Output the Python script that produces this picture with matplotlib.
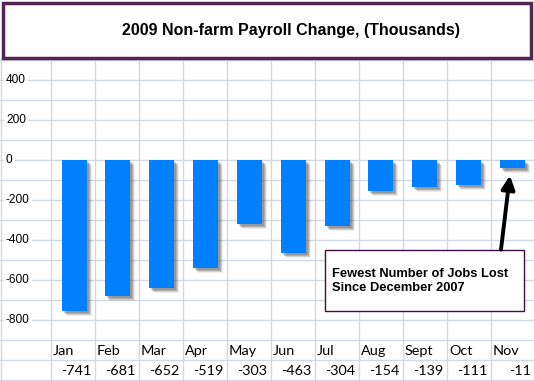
import matplotlib
matplotlib.use("Agg")
import matplotlib.pyplot as plt
import matplotlib.transforms as mtransforms
from matplotlib.patches import Rectangle

# ---- data ----
months = ['Jan', 'Feb', 'Mar', 'Apr', 'May', 'Jun', 'Jul', 'Aug', 'Sept', 'Oct', 'Nov']
bar_values = [-753, -680, -642, -540, -320, -467, -332, -155, -137, -125, -40]
table_values = [-741, -681, -652, -519, -303, -463, -304, -154, -139, -111, -11]
y_ticks = [400, 200, 0, -200, -400, -600, -800]
title = '2009 Non-farm Payroll Change, (Thousands)'
note = 'Fewest Number of Jobs Lost\nSince December 2007'

W, H = 534, 381
DPI = 100
fig = plt.figure(figsize=(W / DPI, H / DPI), dpi=DPI)
fig.patch.set_facecolor('white')

# ---- spreadsheet background (pixel coordinates) ----
bg = fig.add_axes([0, 0, 1, 1])
bg.set_xlim(0, W)
bg.set_ylim(H, 0)
bg.axis('off')
grid_c = '#D0D7E5'
col_w = 44
col0 = 50.5
for k in range(0, 12):
    x = col0 + k * col_w
    bg.plot([x, x], [58, H], color=grid_c, lw=1, zorder=1)
bg.plot([0.5, 0.5], [58, H], color=grid_c, lw=1, zorder=1)
for y in range(60, H + 1, 20):
    bg.plot([0, W], [y, y], color=grid_c, lw=1, zorder=1)

# title box
bg.add_patch(Rectangle((2.5, 2.5), 528, 55, facecolor='white', edgecolor='#532553', lw=2.5, zorder=5))
bg.text(291, 30, title, ha='center', va='center', fontsize=11.5, fontweight='bold',
        family='Liberation Sans', color='black', zorder=6)

# table rows (month names and values)
for i, (m, v) in enumerate(zip(months, table_values)):
    left = col0 + i * col_w
    bg.text(left + 2.5, 351, m, ha='left', va='center', fontsize=10.4, family='Lato', color='black', zorder=3)
    bg.text(left + col_w - 3.5, 371, f'{v}', ha='right', va='center', fontsize=10.4, family='Lato',
            color='black', zorder=3)

# ---- chart axes ----
px_per_unit = 0.2
zero_px = 160
top_px, bot_px = 60, 340
left_px, right_px = 52.1, W
cat_w = 43.85
ax = fig.add_axes([left_px / W, (H - bot_px) / H, (right_px - left_px) / W, (bot_px - top_px) / H])
ax.patch.set_alpha(0)
for s in ax.spines.values():
    s.set_visible(False)
ax.set_xticks([])
ax.set_yticks([])
ax.set_ylim(-(bot_px - zero_px) / px_per_unit, (zero_px - top_px) / px_per_unit)
ax.set_xlim(-0.5, -0.5 + (right_px - left_px) / cat_w)

xs = list(range(len(months)))
# soft shadow
for off, a in [(5, 0.10), (4, 0.18), (3, 0.25), (2, 0.25)]:
    tr = mtransforms.offset_copy(ax.transData, fig=fig, x=off, y=-off, units='dots')
    ax.bar(xs, bar_values, width=0.57, color='#505050', alpha=a, transform=tr, zorder=1, linewidth=0)
ax.bar(xs, bar_values, width=0.57, color='#0080FF', zorder=3, linewidth=0)

# y tick labels
blend = mtransforms.blended_transform_factory(bg.transData, ax.transData)
for t in y_ticks:
    ax.text(6, t, f'{t}', transform=blend, ha='left', va='center', fontsize=8.6,
            family='Liberation Sans', color='black', zorder=4,
            bbox=dict(facecolor='white', edgecolor='none', pad=1.5))

# annotation box + arrow
bg.add_patch(Rectangle((324.5, 249.5), 199, 61.5, facecolor='white', edgecolor='#3F0F3F', lw=1, zorder=5))
bg.text(331.5, 281, note, ha='left', va='center', fontsize=9.3, fontweight='bold',
        family='Liberation Sans', color='black', linespacing=1.25, zorder=6)
ax.annotate('', xy=(9.94, -78), xycoords='data', xytext=(501, 249.5), textcoords=bg.transData,
            arrowprops=dict(arrowstyle='-|>', lw=2.8, color='black', mutation_scale=20,
                            shrinkA=0, shrinkB=0), zorder=7)

fig.savefig('out.png', dpi=DPI)
